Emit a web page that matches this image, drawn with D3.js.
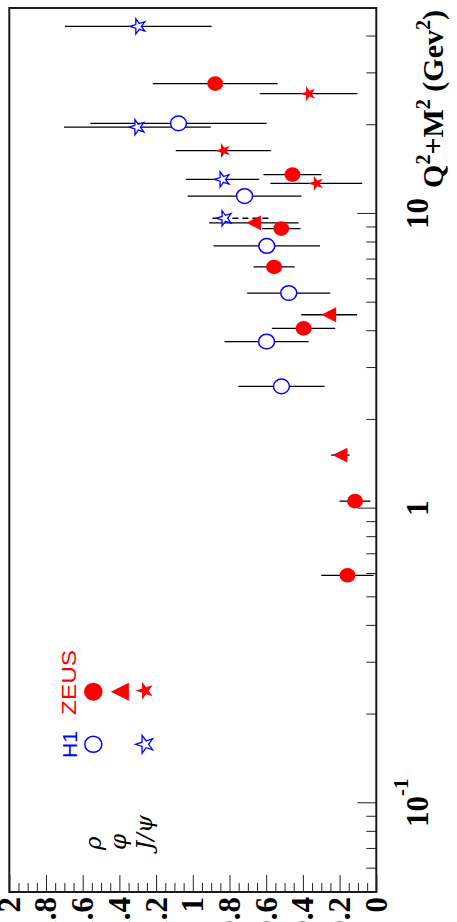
<!DOCTYPE html>
<html>
<head>
<meta charset="utf-8">
<script src="https://cdnjs.cloudflare.com/ajax/libs/d3/7.8.5/d3.min.js"></script>
<style>
  body { margin: 0; background: #fff; }
  svg { display: block; }
</style>
</head>
<body>
<script>
// ZEUS rho
var zeusRhoQ = [0.594, 1.06, 4.09, 6.61, 8.92, 13.6, 27.7];
var zeusRhoR = [0.157, 0.116, 0.396, 0.557, 0.518, 0.457, 0.878];
var zeusRhoErr = [0.143, 0.084, 0.172, 0.112, 0.105, 0.158, 0.34];
// ZEUS phi
var zeusPhiQ = [1.52, 4.55, 9.33];
var zeusPhiR = [0.196, 0.257, 0.667];
var zeusPhiErr = [0.05, 0.152, 0.244];
// ZEUS J/psi
var zeusJpsiQ = [12.7, 16.4, 25.6];
var zeusJpsiR = [0.327, 0.833, 0.369];
var zeusJpsiErr = [0.25, 0.26, 0.266];
// H1 rho
var h1RhoQ = [2.60, 3.69, 5.39, 7.79, 11.5, 20.3];
var h1RhoR = [0.517, 0.598, 0.477, 0.597, 0.718, 1.078];
var h1RhoErr = [0.235, 0.229, 0.227, 0.29, 0.31, 0.48];
// H1 J/psi (first point has asymmetric errors, drawn dashed)
var h1JpsiQ = [9.67, 13.1, 19.7, 43.3];
var h1JpsiR = [0.827, 0.838, 1.302, 1.297];
var h1JpsiErrLo = [0.239, 0.2, 0.40, 0.40];
var h1JpsiErrHi = [0.069, 0.2, 0.40, 0.40];
var h1JpsiDashed = [true, false, false, false];

var logMajorTicks = [0.1, 1, 10];
var logMinorTicks = [0.06, 0.07, 0.08, 0.09, 0.2, 0.3, 0.4, 0.5, 0.6, 0.7, 0.8, 0.9,
  2, 3, 4, 5, 6, 7, 8, 9, 20, 30, 40];
var valueMajorTicks = [0, 0.2, 0.4, 0.6, 0.8, 1, 1.2, 1.4, 1.6, 1.8, 2];
var valueMinorTicks = [];
for (var k = 0; k < 40; k++) { if (k % 4 !== 0) valueMinorTicks.push(k * 0.05); }

var W = 884, H = 367;

var svg = d3.select('body').append('svg')
  .attr('width', 457)
  .attr('height', 922);

svg.append('rect').attr('width', 457).attr('height', 922).style('fill', '#fff');

// the whole plot is turned a quarter turn counter-clockwise
var g = svg.append('g').attr('transform', 'translate(9.3,892) rotate(-90)');

var x = d3.scaleLog().domain([0.05, 50]).range([0, W]);
var y = d3.scaleLinear().domain([0, 2]).range([H, 0]);

var rows = function(q, r, lo, hi) {
  hi = hi || lo;
  return q.map(function(d, i) { return { q: d, r: r[i], lo: lo[i], hi: hi[i], i: i }; });
};

// axes
var styleAxis = function(sel) {
  sel.select('.domain').remove();
  sel.selectAll('.tick line').style('stroke', '#222').style('stroke-width', 1);
};

g.append('g').attr('transform', 'translate(0,' + H + ')')
  .call(d3.axisBottom(x).tickValues(logMinorTicks).tickSize(-10).tickFormat(''))
  .call(styleAxis);

var gx = g.append('g').attr('transform', 'translate(0,' + H + ')')
  .call(d3.axisBottom(x).tickValues(logMajorTicks).tickSize(-19).tickFormat(''))
  .call(styleAxis);

gx.selectAll('.tick text').each(function(d) {
  var t = d3.select(this)
    .attr('y', 51.7).attr('dy', null)
    .style('font-family', '"Liberation Serif", serif')
    .style('font-weight', 'bold')
    .style('font-size', '31px')
    .attr('fill', '#000');
  if (d === 0.1) {
    t.append('tspan').text('10');
    t.append('tspan').attr('dy', -20).style('font-size', '21px').text('-1');
  } else {
    t.text(d3.format('~g')(d));
  }
});

g.append('g')
  .call(d3.axisLeft(y).tickValues(valueMinorTicks).tickSize(-9).tickFormat(''))
  .call(styleAxis);

var gy = g.append('g')
  .call(d3.axisLeft(y).tickValues(valueMajorTicks).tickSize(-17).tickPadding(5).tickFormat(d3.format('~g')))
  .call(styleAxis);

gy.selectAll('.tick text')
  .attr('x', -5)
  .style('font-family', '"Liberation Serif", serif')
  .style('font-weight', 'bold')
  .style('font-size', '31px')
  .attr('fill', '#000');

// frame
g.append('rect')
  .attr('width', W)
  .attr('height', H)
  .style('fill', 'none')
  .style('stroke', '#1a1a1a')
  .style('stroke-width', 2);

// axis title
var title = g.append('text')
  .attr('x', 882)
  .attr('y', H + 66.7)
  .attr('text-anchor', 'end')
  .style('font-family', '"Liberation Serif", serif')
  .style('font-weight', 'bold')
  .style('font-size', '30px');
title.append('tspan').text('Q');
title.append('tspan').attr('dy', -13).style('font-size', '20px').text('2');
title.append('tspan').attr('dy', 13).text('+M');
title.append('tspan').attr('dy', -13).style('font-size', '20px').text('2');
title.append('tspan').attr('dy', 13).text(' (Gev');
title.append('tspan').attr('dy', -13).style('font-size', '20px').text('2');
title.append('tspan').attr('dy', 13).text(')');

// error bars
var drawErrors = function(data, dashed) {
  g.append('g').selectAll('line')
    .data(data)
    .enter()
    .append('line')
    .attr('x1', function(d) { return x(d.q); })
    .attr('x2', function(d) { return x(d.q); })
    .attr('y1', function(d) { return y(d.r - d.lo); })
    .attr('y2', function(d) { return y(d.r + d.hi); })
    .style('stroke', '#000')
    .style('stroke-width', 1.3)
    .style('stroke-dasharray', function(d) { return dashed && dashed[d.i] ? '6,4' : null; });
};

var zeusRho = rows(zeusRhoQ, zeusRhoR, zeusRhoErr);
var zeusPhi = rows(zeusPhiQ, zeusPhiR, zeusPhiErr);
var zeusJpsi = rows(zeusJpsiQ, zeusJpsiR, zeusJpsiErr);
var h1Rho = rows(h1RhoQ, h1RhoR, h1RhoErr);
var h1Jpsi = rows(h1JpsiQ, h1JpsiR, h1JpsiErrLo, h1JpsiErrHi);

drawErrors(h1Rho);
drawErrors(h1Jpsi, h1JpsiDashed);
drawErrors(zeusRho);
drawErrors(zeusPhi);
drawErrors(zeusJpsi);

// markers
var circleMarker = function(sel, filled, color, rx, ry) {
  sel.append('ellipse')
    .attr('rx', rx).attr('ry', ry)
    .style('fill', filled ? color : '#fff')
    .style('stroke', color)
    .style('stroke-width', filled ? 0 : 1.5);
};
var triangleMarker = function(sel, color, s) {
  sel.append('path')
    .attr('d', 'M0,' + (-s) + 'L' + (s * 0.95) + ',' + (s * 0.9) + 'L' + (-s * 0.95) + ',' + (s * 0.9) + 'Z')
    .style('fill', color);
};
var starMarker = function(sel, filled, color, size) {
  sel.append('path')
    .attr('d', d3.symbol(d3.symbolStar).size(size)())
    .style('fill', filled ? color : '#fff')
    .style('stroke', color)
    .style('stroke-width', filled ? 0 : 1.3);
};

var placePoints = function(data) {
  return g.append('g').selectAll('g')
    .data(data)
    .enter()
    .append('g')
    .attr('transform', function(d) { return 'translate(' + x(d.q) + ',' + y(d.r) + ')'; });
};

circleMarker(placePoints(h1Rho), false, '#0000ff', 7.3, 8);
starMarker(placePoints(h1Jpsi), false, '#0000ff', 72);
circleMarker(placePoints(zeusRho), true, '#ff0000', 7.3, 8);
triangleMarker(placePoints(zeusPhi), '#ff0000', 7.8);
starMarker(placePoints(zeusJpsi), true, '#ff0000', 72);

// legend
var leg = g.append('g');
var at = function(px, py) {
  return leg.append('g').attr('transform', 'translate(' + px + ',' + py + ')');
};
circleMarker(at(200.3, 84), true, '#ff0000', 9, 9.3);
triangleMarker(at(200.3, 111), '#ff0000', 9.5);
starMarker(at(201.3, 135.7), true, '#ff0000', 100);
circleMarker(at(147.7, 84), false, '#0000ff', 8, 8.5);
starMarker(at(147.7, 135.7), false, '#0000ff', 100);

leg.append('text')
  .attr('x', 177).attr('y', 66.7)
  .attr('textLength', 65)
  .attr('lengthAdjust', 'spacingAndGlyphs')
  .style('font-family', '"Liberation Sans", sans-serif')
  .style('font-size', '20px')
  .style('fill', '#ff0000')
  .text('ZEUS');
leg.append('text')
  .attr('x', 147.5).attr('y', 67.4)
  .attr('text-anchor', 'middle')
  .style('font-family', '"Liberation Sans", sans-serif')
  .style('font-size', '21px')
  .style('fill', '#0000ff')
  .text('H1');

var names = ['\u03c1', '\u03c6', 'J/\u03c8'];
var nameY = [91.5, 117, 143];
leg.selectAll('.name')
  .data(names)
  .enter()
  .append('text')
  .attr('class', 'name')
  .attr('x', 42)
  .attr('y', function(d, i) { return nameY[i]; })
  .style('font-family', '"DejaVu Serif", serif')
  .style('font-style', 'italic')
  .style('font-size', '23px')
  .text(function(d) { return d; });
</script>
</body>
</html>
